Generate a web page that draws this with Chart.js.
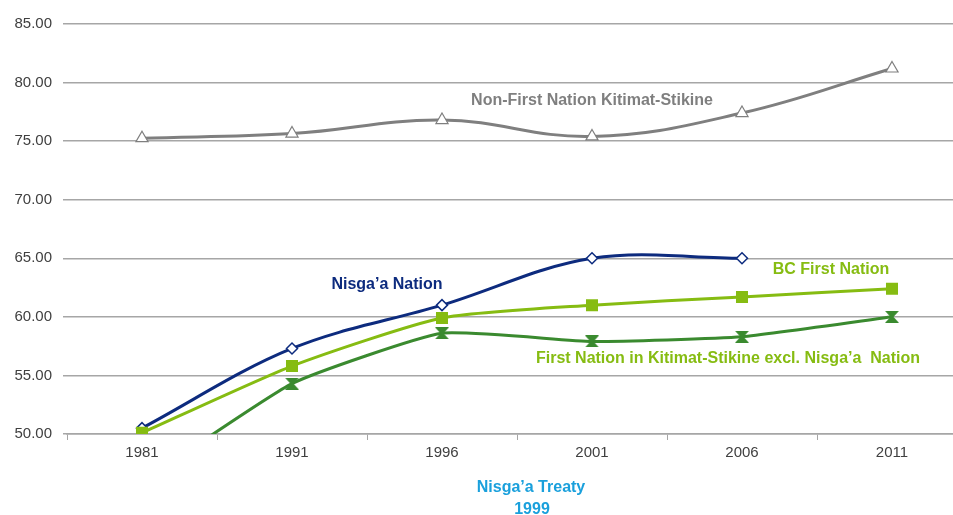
<!DOCTYPE html>
<html>
<head>
<meta charset="utf-8">
<script src="https://cdn.jsdelivr.net/npm/chart.js@4/dist/chart.umd.min.js"></script>
<style>
html,body{margin:0;padding:0;background:#fff;overflow:hidden;width:953px;height:515px;}
#wrap{position:absolute;left:0;top:0;width:977px;height:515px;}
</style>
</head>
<body>
<div id="wrap"><canvas id="c" width="977" height="515"></canvas></div>
<script>
const years = ['1981','1991','1996','2001','2006','2011'];
const yTicks = [50,55,60,65,70,75,80,85];
const nonFirstNation = [75.25, 75.65, 76.8, 75.4, 77.4, 81.2];
const nisgaaNation = [50.5, 57.3, 61.0, 65.0, 65.0, null];
const bcFirstNation = [50.1, 55.8, 59.9, 61.0, 61.7, 62.4];
const ksExclNisgaa = [45.9, 54.3, 58.6, 57.9, 58.3, 60.0];

const labelNonFN = 'Non-First Nation Kitimat-Stikine';
const labelNisgaa = 'Nisga\u2019a Nation';
const labelBC = 'BC First Nation';
const labelKS = 'First Nation in Kitimat-Stikine excl. Nisga\u2019a  Nation';
const treatyLines = ['Nisga\u2019a Treaty', '1999'];

const NAVY = '#0d2b7e', LGREEN = '#86bc12', DGREEN = '#3a8a2f', GREY = '#7f7f7f', BLUE = '#1aa0dc';

function hourglass(color, w, h){
  const c = document.createElement('canvas');
  c.width = w; c.height = h;
  const g = c.getContext('2d');
  g.fillStyle = color;
  g.beginPath();
  g.moveTo(0,0); g.lineTo(w,0); g.lineTo(w/2+1.5,h/2); g.lineTo(w,h); g.lineTo(0,h); g.lineTo(w/2-1.5,h/2); g.closePath();
  g.fill();
  return c;
}

const textPlugin = {
  id:'texts',
  afterDatasetsDraw(chart){
    const ctx = chart.ctx;
    ctx.save();
    ctx.font = 'bold 16px "Liberation Sans", Arial, sans-serif';
    ctx.textAlign = 'center';
    ctx.textBaseline = 'middle';
    const items = [
      [labelNonFN, 592, 101, GREY],
      [labelNisgaa, 387, 285, NAVY],
      [labelBC, 831, 270, LGREEN],
      [labelKS, 728, 359, LGREEN],
      [treatyLines[0], 531, 488, BLUE],
      [treatyLines[1], 532, 510, BLUE]
    ];
    for(const [t,x,y,col] of items){ ctx.fillStyle = col; ctx.fillText(t,x,y); }
    ctx.restore();
  }
};

new Chart(document.getElementById('c'), {
  type:'line',
  data:{
    labels: years,
    datasets:[
      {label:labelNonFN, data:nonFirstNation, borderColor:GREY, borderWidth:3, pointStyle:'triangle', pointRadius:7, pointBackgroundColor:'#fff', pointBorderColor:GREY, pointBorderWidth:1.2, tension:0.4},
      {label:labelKS, data:ksExclNisgaa, borderColor:DGREEN, borderWidth:3, pointStyle:hourglass(DGREEN,14,12), pointRadius:7, tension:0.15},
      {label:labelBC, data:bcFirstNation, borderColor:LGREEN, borderWidth:3, pointStyle:'rect', pointRadius:8.5, pointBackgroundColor:LGREEN, pointBorderColor:LGREEN, pointBorderWidth:0, tension:0.2},
      {label:labelNisgaa, data:nisgaaNation, borderColor:NAVY, borderWidth:3, pointStyle:'rectRot', pointRadius:5.5, pointBackgroundColor:'#fff', pointBorderColor:NAVY, pointBorderWidth:1.5, tension:0.35}
    ]
  },
  options:{
    responsive:false,
    animation:false,
    devicePixelRatio:1,
    layout:{padding:{top:24,left:0,right:0,bottom:0}},
    plugins:{legend:{display:false}, tooltip:{enabled:false}},
    scales:{
      x:{
        offset:true,
        grid:{offset:true, drawOnChartArea:false, drawTicks:true, tickLength:6, color:'#a6a6a6'},
        border:{display:true, color:'#a6a6a6', width:1.5},
        ticks:{color:'#404040', font:{size:15, family:'"Liberation Sans", Arial, sans-serif'}, padding:4, maxRotation:0},
        afterFit(s){ s.height = 81; }
      },
      y:{
        min:50, max:85,
        afterBuildTicks(s){ s.ticks = yTicks.map(v=>({value:v})); },
        grid:{color:'#a6a6a6', lineWidth:1.5, tickLength:4},
        border:{display:false},
        ticks:{color:'#404040', font:{size:15, family:'"Liberation Sans", Arial, sans-serif'}, padding:11, callback:v=>v.toFixed(2)},
        afterFit(s){ s.width = 67; }
      }
    }
  },
  plugins:[textPlugin]
});
</script>
</body>
</html>
